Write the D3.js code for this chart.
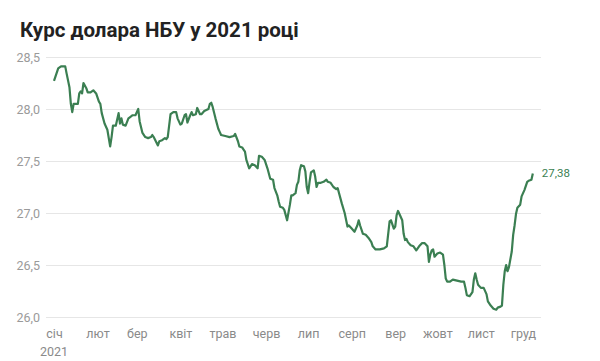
<!DOCTYPE html>
<html>
<head>
<meta charset="utf-8">
<script src="https://cdn.jsdelivr.net/npm/d3@7"></script>
<style>
  body { margin: 0; background: #fff; }
  text { font-family: Roboto, "Noto Sans", sans-serif; }
</style>
</head>
<body>
<svg></svg>
<script>
// The svg
let width = 600;
let height = 361;
const svg = d3.select("svg").attr("width", width).attr("height", height);

// Data: day of year 2021 (0 = 1 Jan) and UAH per USD
const days = [0, 3, 5, 8, 9, 11, 12, 13, 14, 17, 18, 19, 20, 21, 23, 24, 26, 28, 30, 32,
    33, 34, 36, 38, 40, 41, 42, 44, 46, 47, 48, 49, 51, 53, 54, 56, 58, 60, 61, 63,
    65, 67, 69, 70, 71, 74, 75, 77, 79, 80, 81, 83, 85, 87, 88, 90, 91, 93, 94, 95,
    97, 98, 99, 101, 102, 104, 105, 107, 110, 111, 112, 113, 115, 117, 118, 119, 122, 125, 128, 129,
    131, 132, 134, 135, 136, 137, 139, 141, 143, 145, 146, 148, 150, 152, 154, 156, 157, 159, 160, 161,
    163, 164, 166, 168, 169, 170, 172, 173, 174, 175, 176, 178, 179, 180, 181, 182, 183, 185, 186, 187,
    188, 190, 192, 194, 195, 197, 199, 201, 202, 205, 207, 209, 210, 212, 214, 216, 217, 218, 220, 222,
    224, 226, 227, 229, 232, 235, 237, 238, 239, 240, 242, 243, 244, 245, 246, 248, 249, 250, 251, 252,
    254, 256, 258, 260, 262, 264, 266, 267, 268, 269, 270, 271, 273, 275, 277, 278, 279, 280, 282, 284,
    287, 290, 292, 293, 294, 296, 298, 299, 300, 301, 302, 304, 306, 308, 309, 311, 313, 315, 316, 318,
    319, 320, 321, 322, 323, 324, 326, 327, 328, 329, 330, 332, 333, 335, 337, 338, 340, 341];
const rates = [28.27, 28.39, 28.41, 28.41, 28.34, 28.21, 28.05, 27.97, 28.05, 28.05, 28.15, 28.17, 28.15, 28.25, 28.20, 28.16, 28.16, 28.18, 28.15, 28.07,
    28.05, 27.96, 27.86, 27.80, 27.64, 27.73, 27.84, 27.84, 27.96, 27.86, 27.91, 27.85, 27.84, 27.91, 27.92, 27.94, 27.94, 28.00, 27.88, 27.77,
    27.73, 27.72, 27.73, 27.75, 27.73, 27.65, 27.69, 27.70, 27.72, 27.71, 27.73, 27.95, 27.97, 27.97, 27.91, 27.85, 27.86, 27.94, 27.95, 27.87,
    27.94, 27.97, 27.94, 27.95, 28.01, 27.95, 27.95, 27.98, 28.00, 28.05, 28.06, 28.02, 27.91, 27.81, 27.78, 27.75, 27.74, 27.73, 27.74, 27.76,
    27.69, 27.64, 27.63, 27.61, 27.59, 27.51, 27.43, 27.47, 27.46, 27.43, 27.55, 27.54, 27.51, 27.43, 27.33, 27.32, 27.24, 27.17, 27.11, 27.06,
    27.05, 27.03, 26.93, 27.08, 27.17, 27.17, 27.19, 27.27, 27.30, 27.41, 27.46, 27.45, 27.40, 27.25, 27.19, 27.30, 27.39, 27.41, 27.35, 27.25,
    27.29, 27.29, 27.30, 27.32, 27.30, 27.29, 27.25, 27.23, 27.24, 27.09, 27.00, 26.87, 26.88, 26.85, 26.82, 26.88, 26.93, 26.88, 26.80, 26.79,
    26.76, 26.72, 26.68, 26.65, 26.65, 26.66, 26.68, 26.80, 26.92, 26.93, 26.85, 26.87, 26.98, 27.02, 26.99, 26.93, 26.80, 26.74, 26.75, 26.72,
    26.69, 26.68, 26.64, 26.68, 26.71, 26.71, 26.68, 26.53, 26.60, 26.64, 26.65, 26.58, 26.61, 26.62, 26.60, 26.50, 26.37, 26.34, 26.34, 26.36,
    26.35, 26.34, 26.34, 26.28, 26.21, 26.20, 26.24, 26.36, 26.42, 26.36, 26.31, 26.28, 26.28, 26.22, 26.15, 26.11, 26.08, 26.07, 26.09, 26.10,
    26.11, 26.31, 26.44, 26.50, 26.44, 26.48, 26.63, 26.79, 26.88, 26.99, 27.05, 27.08, 27.16, 27.22, 27.30, 27.31, 27.32, 27.38];

const monthNames = ["січ", "лют", "бер", "квіт", "трав", "черв", "лип", "серп", "вер", "жовт", "лист", "груд"];
const yTicks = [26.0, 26.5, 27.0, 27.5, 28.0, 28.5];

const lineColor = "#3b7f52";
const ua = d3.formatLocale({ decimal: ",", thousands: " ", grouping: [3], currency: ["", " ₴"] });

const start = new Date(2021, 0, 1);
const data = days.map((d, i) => ({ date: d3.timeDay.offset(start, d), value: rates[i] }));

let x = d3.scaleTime()
    .domain([start, new Date(2021, 11, 1)])
    .range([54, 523]);
let y = d3.scaleLinear()
    .domain([26.0, 28.5])
    .range([317, 57]);

// Title
svg.append("text")
    .attr("x", 20)
    .attr("y", 37)
    .attr("font-size", 20.5)
    .attr("font-weight", "bold")
    .attr("fill", "#222")
    .text("Курс долара НБУ у 2021 році");

// Grid + y labels
const yAxis = svg.append("g")
    .attr("transform", "translate(46,0)")
    .call(d3.axisLeft(y).tickValues(yTicks).tickSize(-495).tickPadding(6).tickFormat(ua.format(".1f")));
yAxis.select(".domain").remove();
yAxis.selectAll(".tick line").attr("stroke", "#e6e6e6");
yAxis.selectAll(".tick text")
    .attr("fill", "#9a9a9a")
    .attr("font-size", 12.5)
    .attr("font-family", "Roboto, sans-serif");

// x labels
const months = d3.range(12).map(m => new Date(2021, m, 1));
const xAxis = svg.append("g")
    .attr("transform", "translate(0,317)")
    .call(d3.axisBottom(x).tickValues(months).tickSize(0).tickPadding(12)
        .tickFormat((d, i) => monthNames[i]));
xAxis.select(".domain").remove();
xAxis.selectAll(".tick text")
    .attr("fill", "#8a8a8a")
    .attr("font-size", 12.5)
    .attr("font-family", "Roboto, sans-serif");
xAxis.append("text")
    .attr("x", x(start))
    .attr("y", 30)
    .attr("dy", "0.71em")
    .attr("text-anchor", "middle")
    .attr("fill", "#8a8a8a")
    .attr("font-size", 12.5)
    .text("2021");

// The line
const line = d3.line()
    .x(d => x(d.date))
    .y(d => y(d.value));

svg.append("path")
    .datum(data)
    .attr("d", line)
    .attr("fill", "none")
    .attr("stroke", lineColor)
    .attr("stroke-width", 2.2)
    .attr("stroke-linejoin", "round");

// last value label
const last = data[data.length - 1];
svg.append("text")
    .attr("x", x(last.date) + 9)
    .attr("y", y(last.value) + 4)
    .attr("font-size", 11.5)
    .attr("fill", lineColor)
    .text(ua.format(".2f")(last.value));
</script>
</body>
</html>
